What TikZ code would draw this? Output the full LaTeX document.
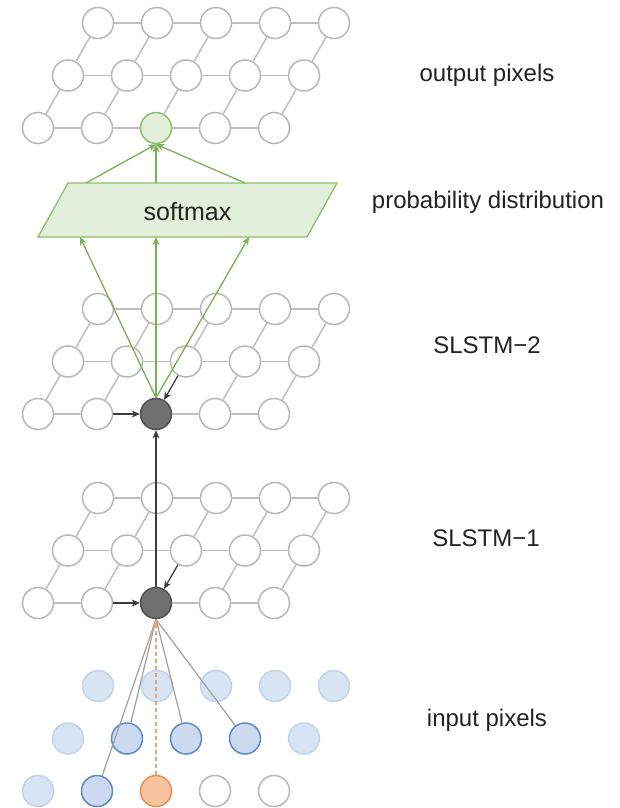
\documentclass[tikz,border=0pt]{standalone}
\usepackage{fontspec}
\setmainfont{Liberation Sans}
\usetikzlibrary{arrows.meta}

\definecolor{cellborder}{HTML}{B8B8B8}
\definecolor{gridline}{HTML}{BEBEBE}
\definecolor{darkfill}{HTML}{707070}
\definecolor{darkborder}{HTML}{505050}
\definecolor{darkarrow}{HTML}{3C3C3C}
\definecolor{greenfill}{HTML}{E2EFDA}
\definecolor{greenborder}{HTML}{8CC06A}
\definecolor{greenline}{HTML}{78B252}
\definecolor{bluelight}{HTML}{D8E3F3}
\definecolor{bluelightborder}{HTML}{C2D3EB}
\definecolor{bluefill}{HTML}{CCDAF0}
\definecolor{blueborder}{HTML}{5F8AC6}
\definecolor{orangefill}{HTML}{F7C4A0}
\definecolor{orangeborder}{HTML}{EC8E4E}
\definecolor{orangeline}{HTML}{F0A06A}
\definecolor{inputline}{HTML}{A0A0A0}
\definecolor{labeltext}{HTML}{222222}

\tikzset{
  cell/.style={circle, draw=cellborder, fill=white, line width=1.5pt,
    minimum size=31pt, inner sep=0pt},
  darkcell/.style={cell, draw=darkborder, fill=darkfill},
  greencell/.style={cell, draw=greenborder, fill=greenfill},
  inlight/.style={cell, draw=bluelightborder, fill=bluelight},
  inblue/.style={cell, draw=blueborder, fill=bluefill},
  inorange/.style={cell, draw=orangeborder, fill=orangefill},
  grid edge/.style={draw=gridline, line width=1.5pt},
  dark arrow/.style={draw=darkarrow, line width=1.3pt,
    -{Stealth[length=8pt,width=7pt]}},
  green arrow/.style={draw=greenline, line width=1.3pt,
    -{Stealth[length=8pt,width=7pt]}},
  input link/.style={draw=inputline, line width=1.2pt},
  orange arrow/.style={draw=orangeline, line width=1.3pt,
    dash pattern=on 4pt off 3pt,
    -{Stealth[length=8pt,width=7pt,fill=orangeline]}},
  softmax box/.style={draw=greenborder, fill=greenfill, line width=1.3pt,
    line join=miter},
  layer label/.style={anchor=base, text=labeltext, font=\fontsize{24}{28}\selectfont},
  % special cells, looked up by "<layer> <row>-<column>"
  out 1-3/.style={greencell},
  s2 1-3/.style={darkcell},
  s1 1-3/.style={darkcell},
  in 2-2/.style={inblue},
  in 2-3/.style={inblue},
  in 2-4/.style={inblue},
  in 1-2/.style={inblue},
  in 1-3/.style={inorange},
  in 1-4/.style={cell},
  in 1-5/.style={cell},
}

% three staggered rows of five cells; row 1 is the lowest
% #1 name prefix, #2 y of the lowest row, #3 default cell style
\newcommand\pixelnodes[3]{%
  \foreach \r in {1,2,3}{%
    \foreach \c in {1,...,5}{%
      \edef\makecell{\noexpand\node[#3, #1 \r-\c/.try] (#1-\r-\c)
        at ({38+59*(\c-1)+30*(\r-1)}, {#2-52.5*(\r-1)}) {};}%
      \makecell
    }%
  }%
}

% horizontal links of rows 2 and 3 and the slanted links from row 2 to row 3
\newcommand\upperlinks[1]{%
  \foreach \r in {2,3}{%
    \foreach \c [count=\n from 2] in {1,...,4}{%
      \draw[grid edge] (#1-\r-\c) -- (#1-\r-\n);
    }%
  }%
  \foreach \c in {1,...,5}{%
    \draw[grid edge] (#1-2-\c) -- (#1-3-\c);
  }%
}

\begin{document}
\begin{tikzpicture}[x=1pt, y=-1pt]
\fill[white] (0,0) rectangle (619,808);
\useasboundingbox (0,0) rectangle (619,808);

% ---------- cells ----------
\pixelnodes{out}{128}{cell}
\pixelnodes{s2}{414}{cell}
\pixelnodes{s1}{603}{cell}
\pixelnodes{in}{791}{inlight}

% ---------- output pixel grid ----------
\upperlinks{out}
\foreach \c [count=\n from 2] in {1,...,4}{\draw[grid edge] (out-1-\c) -- (out-1-\n);}
\foreach \c in {1,...,5}{\draw[grid edge] (out-1-\c) -- (out-2-\c);}

% ---------- SLSTM grids ----------
\foreach \L in {s2,s1}{
  \upperlinks{\L}
  \draw[grid edge] (\L-1-1) -- (\L-1-2);
  \draw[grid edge] (\L-1-3) -- (\L-1-4);
  \draw[grid edge] (\L-1-4) -- (\L-1-5);
  \foreach \c in {1,2,4,5}{\draw[grid edge] (\L-1-\c) -- (\L-2-\c);}
  \draw[dark arrow] (\L-1-2) -- (\L-1-3);
  \draw[dark arrow] (\L-2-3) -- (\L-1-3);
}
\draw[dark arrow] (s1-1-3) -- (s2-1-3);

% ---------- softmax ----------
\path[softmax box] (38,237) -- (68,183) -- (337,183) -- (307,237) -- cycle;
\node[anchor=base, text=labeltext, font=\fontsize{25}{30}\selectfont]
  (smlabel) at (187.5,220.7) {softmax};
\coordinate (smb1) at (80,237);
\coordinate (smb2) at (156,237);
\coordinate (smb3) at (249,237);
\coordinate (smt1) at (86,183);
\coordinate (smt2) at (156,183);
\coordinate (smt3) at (245,183);

\foreach \k in {1,2,3}{
  \draw[green arrow] (s2-1-3.north) -- (smb\k);
  \draw[green arrow] (smt\k) -- (out-1-3.south);
}

% ---------- input context ----------
\draw[input link] (in-1-2) -- (s1-1-3.south);
\draw[input link] (in-2-2) -- (s1-1-3.south);
\draw[input link] (in-2-3) -- (s1-1-3.south);
\draw[input link] (in-2-4) -- (s1-1-3.south);
\draw[orange arrow] (in-1-3) -- (s1-1-3.south);

% ---------- labels ----------
\node[layer label] (lbl-out) at (487,81.7) {output pixels};
\node[layer label] (lbl-prob) at (488,208) {probability distribution};
\node[layer label] (lbl-s2) at (487,353) {SLSTM−2};
\node[layer label] (lbl-s1) at (486,546.7) {SLSTM−1};
\node[layer label] (lbl-in) at (487,726.7) {input pixels};
\end{tikzpicture}
\end{document}
